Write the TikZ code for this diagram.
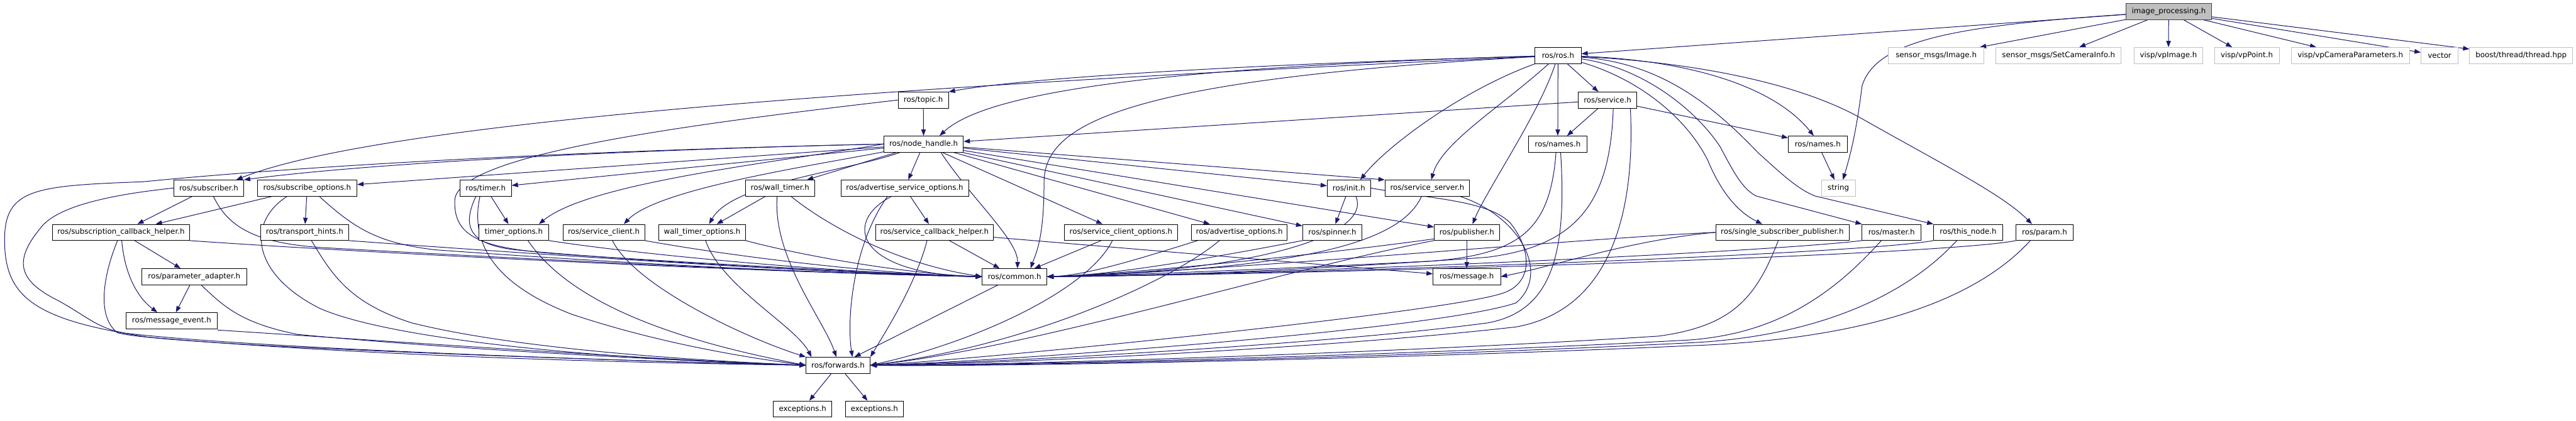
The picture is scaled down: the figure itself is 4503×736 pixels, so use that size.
\documentclass[tikz,border=0pt]{standalone}
\usepackage{fontspec}
\setmainfont{DejaVu Sans}
\usetikzlibrary{arrows.meta,calc}
\definecolor{eblue}{HTML}{191970}
\definecolor{extgray}{HTML}{BFBFBF}
\definecolor{ipfill}{HTML}{BFBFBF}
\definecolor{ipdraw}{HTML}{404040}
\pgfdeclarelayer{bg}
\pgfdeclarelayer{edges}
\pgfsetlayers{bg,edges,main}
\tikzset{
  nd/.style={draw=black, fill=white, line width=0.9pt, minimum height=28pt, inner sep=0pt, font=\fontsize{13}{15}\selectfont},
  ext/.style={nd, draw=extgray},
  ipn/.style={nd, draw=ipdraw, fill=ipfill},
  arr/.style={draw=eblue, line width=1.1pt, -{Triangle[length=11pt,width=8pt]}},
}
\begin{document}
\begin{tikzpicture}[x=1pt,y={(0pt,-1pt)}]
\useasboundingbox (0,0) rectangle (4503,736);
\begin{pgfonlayer}{bg}
\fill[white] (0,0) rectangle (4503,736);
\end{pgfonlayer}
% row 0
\node[ipn, minimum width=150pt] (ip) at (3791,20) {image\_processing.h};
% row 1
\node[nd, minimum width=81pt] (ros) at (2723.5,97) {ros/ros.h};
\node[ext, minimum width=167pt] (simg) at (3384.5,97) {sensor\_msgs/Image.h};
\node[ext, minimum width=219pt] (scam) at (3598.5,97) {sensor\_msgs/SetCameraInfo.h};
\node[ext, minimum width=119pt] (vpimg) at (3790.5,97) {visp/vpImage.h};
\node[ext, minimum width=113pt] (vppt) at (3927.5,97) {visp/vpPoint.h};
\node[ext, minimum width=207pt] (vpcam) at (4108.5,97) {visp/vpCameraParameters.h};
\node[ext, minimum width=65pt] (vector) at (4264.5,97) {vector};
\node[ext, minimum width=180pt] (boost) at (4407,97) {boost/thread/thread.hpp};
% row 2
\node[nd, minimum width=88pt] (topic) at (1614,175) {ros/topic.h};
\node[nd, minimum width=102pt] (service) at (2810,175) {ros/service.h};
% row 3
\node[nd, minimum width=139pt] (nh) at (1614.5,252) {ros/node\_handle.h};
\node[nd, minimum width=102pt] (namesL) at (2723,252) {ros/names.h};
\node[nd, minimum width=103pt] (namesR) at (3177.5,252) {ros/names.h};
% row 4
\node[nd, minimum width=122pt] (sub) at (365,329) {ros/subscriber.h};
\node[nd, minimum width=174pt] (subopt) at (537,329) {ros/subscribe\_options.h};
\node[nd, minimum width=90pt] (timer) at (849,329) {ros/timer.h};
\node[nd, minimum width=121pt] (wtimer) at (1363.5,329) {ros/wall\_timer.h};
\node[nd, minimum width=223pt] (adsvc) at (1581.5,329) {ros/advertise\_service\_options.h};
\node[nd, minimum width=76pt] (init) at (2358,329) {ros/init.h};
\node[nd, minimum width=148pt] (ssrv) at (2495,329) {ros/service\_server.h};
\node[ext, minimum width=59pt] (string) at (3213.5,329) {string};
% row 5
\node[nd, minimum width=239pt] (sch) at (211.5,406.5) {ros/subscription\_callback\_helper.h};
\node[nd, minimum width=153pt] (th) at (532.5,406.5) {ros/transport\_hints.h};
\node[nd, minimum width=122pt] (topt) at (898,406.5) {timer\_options.h};
\node[nd, minimum width=143pt] (sc) at (1055.5,406.5) {ros/service\_client.h};
\node[nd, minimum width=151pt] (wto) at (1227.5,406.5) {wall\_timer\_options.h};
\node[nd, minimum width=205pt] (svcb) at (1633.5,406.5) {ros/service\_callback\_helper.h};
\node[nd, minimum width=197pt] (sco) at (1959.5,406.5) {ros/service\_client\_options.h};
\node[nd, minimum width=167pt] (ado) at (2166.5,406.5) {ros/advertise\_options.h};
\node[nd, minimum width=104pt] (spin) at (2329,406.5) {ros/spinner.h};
\node[nd, minimum width=114pt] (pub) at (2564,406.5) {ros/publisher.h};
\node[nd, minimum width=233pt] (ssp) at (3115.5,406.5) {ros/single\_subscriber\_publisher.h};
\node[nd, minimum width=103pt] (master) at (3306.5,406.5) {ros/master.h};
\node[nd, minimum width=121pt] (thisnode) at (3440.5,406.5) {ros/this\_node.h};
\node[nd, minimum width=100pt] (param) at (3574,406.5) {ros/param.h};
% row 6
\node[nd, minimum width=183pt] (pa) at (339.5,484) {ros/parameter\_adapter.h};
\node[nd, minimum width=113pt] (common) at (1773.5,484) {ros/common.h};
\node[nd, minimum width=118pt] (msg) at (2564,484) {ros/message.h};
% row 7
\node[nd, minimum width=160pt] (me) at (300,561) {ros/message\_event.h};
% row 8
\node[nd, minimum width=112pt] (fwd) at (1465,639) {ros/forwards.h};
% row 9
\node[nd, minimum width=102pt] (ex1) at (1403,715.5) {exceptions.h};
\node[nd, minimum width=101pt] (ex2) at (1528.5,715.5) {exceptions.h};

\begin{pgfonlayer}{edges}
% image_processing.h
\draw[arr] (ip) -- (ros);
\draw[arr] (ip) .. controls (3420,45) and (3280,70) .. (3255,150) .. controls (3245,230) and (3235,270) .. ($(string.north)+(8,0)$);
\draw[arr] (ip) -- (simg);
\draw[arr] (ip) -- (scam);
\draw[arr] (ip) -- (vpimg);
\draw[arr] (ip) -- (vppt);
\draw[arr] (ip) -- (vpcam);
\draw[arr] (ip) -- (vector);
\draw[arr] (ip) -- (boost);
% ros/ros.h
\draw[arr] (ros) .. controls (2200,112) and (1800,135) .. (topic.north east);
\draw[arr] (ros) .. controls (2000,118) and (1720,165) .. ($(nh.north)+(28,0)$);
\draw[arr] (ros) .. controls (1800,140) and (700,200) .. ($(sub.north)+(48,0)$);
\draw[arr] (ros) .. controls (1950,140) and (1825,220) .. (1825,320) .. controls (1825,420) and (1810,445) .. ($(common.north)+(28,0)$);
\draw[arr] (ros) .. controls (2550,160) and (2420,260) .. ($(init.north)+(20,0)$);
\draw[arr] (ros) .. controls (2620,190) and (2520,250) .. ($(ssrv.north)+(7,0)$);
\draw[arr] (ros) .. controls (2690,200) and (2600,330) .. ($(pub.north)+(10,0)$);
\draw[arr] (ros) -- (namesL);
\draw[arr] (ros) -- (service);
\draw[arr] (ros) .. controls (2870,140) and (2950,210) .. (2985,280) .. controls (3010,340) and (3040,372) .. ($(ssp.north)+(-35,0)$);
\draw[arr] (ros) .. controls (2880,120) and (2970,200) .. (3007,257) .. controls (3030,300) and (3045,330) .. (3070,343) -- (master.north west);
\draw[arr] (ros) .. controls (2900,110) and (2990,180) .. (3073,267) .. controls (3110,300) and (3140,330) .. (3173,343) -- (thisnode.north west);
\draw[arr] (ros) .. controls (2950,105) and (3100,150) .. ($(namesR.north)+(-7,0)$);
\draw[arr] (ros) .. controls (2980,110) and (3150,150) .. (3250,205) .. controls (3400,290) and (3500,340) .. ($(param.north)+(-22,0)$);
% ros/service.h
\draw[arr] (service) -- (nh);
\draw[arr] (service) -- (namesL);
\draw[arr] (service) -- (namesR);
\draw[arr] ($(service.south)+(10,0)$) .. controls (2815,350) and (2760,430) .. (2600,450) .. controls (2300,472) and (2000,484) .. (common.east);
\draw[arr] ($(service.south)+(40,0)$) .. controls (2860,400) and (2800,545) .. (2650,572) .. controls (2300,612) and (1700,638) .. (fwd.east);
% ros/names.h
\draw[arr] (namesR) -- (string);
\draw[arr] ($(namesL.south)+(-3,0)$) .. controls (2710,400) and (2660,445) .. (2500,457) .. controls (2200,472) and (1950,482) .. (common.east);
\draw[arr] ($(namesL.south)+(5,0)$) .. controls (2740,450) and (2710,545) .. (2600,565) .. controls (2300,605) and (1700,636) .. (fwd.east);
% ros/topic.h
\draw[arr] (topic) -- (nh);
\draw[arr] (topic.west) .. controls (1200,218) and (800,270) .. (795,350) .. controls (792,420) and (850,436) .. (1000,446) .. controls (1300,466) and (1600,480) .. (common.west);
% ros/node_handle.h
\draw[arr] (nh.west) .. controls (1100,262) and (650,285) .. (sub.north east);
\draw[arr] (nh) -- (subopt);
\draw[arr] (nh) -- (timer);
\draw[arr] (nh.west) .. controls (1350,285) and (1030,320) .. ($(topt.north)+(44,0)$);
\draw[arr] (nh) .. controls (1420,290) and (1150,330) .. ($(sc.north)+(35,0)$);
\draw[arr] (nh) .. controls (1480,300) and (1280,320) .. ($(wto.north)+(12,0)$);
\draw[arr] (nh) -- (wtimer);
\draw[arr] (nh) -- (adsvc);
\draw[arr] (nh) -- (sco);
\draw[arr] (nh) -- (ado);
\draw[arr] (nh) -- (spin);
\draw[arr] (nh) -- (init);
\draw[arr] (nh) -- (ssrv.north west);
\draw[arr] (nh) -- (pub);
\draw[arr] ($(nh.south)+(30,0)$) .. controls (1700,350) and (1780,420) .. ($(common.north)+(5,0)$);
\draw[arr] (nh.west) .. controls (900,266) and (450,298) .. (250,318) .. controls (60,325) and (8,330) .. (8,420) .. controls (8,520) and (60,560) .. (260,590) .. controls (700,628) and (1200,636) .. (fwd.west);
% left group
\draw[arr] (sub) -- (sch);
\draw[arr] (subopt) -- (sch);
\draw[arr] (subopt) -- (th);
\draw[arr] (sch) -- (pa);
\draw[arr] (sch) .. controls (218,480) and (240,520) .. ($(me.north)+(-25,0)$);
\draw[arr] (pa) -- (me);
\draw[arr] (timer) -- (topt);
\draw[arr] (wtimer) -- (wto);
\draw[arr] (adsvc) -- (svcb);
\draw[arr] (init) -- (spin);
% to common.h
\draw[arr] ($(sub.south)+(8,0)$) .. controls (400,400) and (450,425) .. (560,433) .. controls (900,452) and (1400,478) .. (common.west);
\draw[arr] ($(subopt.south)+(21,0)$) .. controls (620,400) and (660,425) .. (760,437) .. controls (1050,458) and (1400,478) .. (common.west);
\draw[arr] (sch.south east) .. controls (600,440) and (1300,476) .. (common.west);
\draw[arr] (th.south east) .. controls (900,442) and (1400,477) .. (common.west);
\draw[arr] ($(timer.south)+(-17,0)$) .. controls (805,400) and (825,428) .. (900,437) .. controls (1100,456) and (1500,479) .. (common.west);
\draw[arr] (topt.south east) .. controls (1150,450) and (1500,479) .. (common.west);
\draw[arr] (sc.south east) .. controls (1300,452) and (1550,480) .. (common.west);
\draw[arr] (wto.south east) .. controls (1420,452) and (1600,480) .. (common.west);
\draw[arr] ($(wtimer.south)+(19,0)$) .. controls (1440,390) and (1560,460) .. (common.west);
\draw[arr] ($(adsvc.south)+(-23,0)$) .. controls (1470,390) and (1500,480) .. (common.west);
\draw[arr] (svcb) -- (common);
\draw[arr] (sco) -- (common);
\draw[arr] ($(ado.south)+(-73,0)$) .. controls (2000,450) and (1900,482) .. (common.east);
\draw[arr] (spin.south west) .. controls (2150,445) and (1950,482) .. (common.east);
\draw[arr] ($(init.south)+(12,0)$) .. controls (2400,410) and (2200,475) .. (common.east);
\draw[arr] ($(ssrv.south)+(-10,0)$) .. controls (2450,420) and (2300,470) .. (common.east);
\draw[arr] ($(pub.south west)+(0,-3)$) .. controls (2350,440) and (2000,478) .. (common.east);
\draw[arr] (ssp.west) .. controls (2750,418) and (2200,470) .. (common.east);
\draw[arr] (master.south west) .. controls (3100,440) and (2300,478) .. (common.east);
\draw[arr] (thisnode.south west) .. controls (3250,445) and (2300,479) .. (common.east);
\draw[arr] (param.south west) .. controls (3400,447) and (2300,480) .. (common.east);
% to message.h
\draw[arr] (pub) -- (msg);
\draw[arr] (svcb) -- (msg);
\draw[arr] (ssp.west) .. controls (2850,420) and (2720,465) .. (msg.east);
% to forwards.h
\draw[arr] (sub.west) .. controls (150,345) and (90,372) .. (70,400) .. controls (25,455) and (30,490) .. (100,525) .. controls (150,552) and (170,575) .. (220,583) .. controls (450,610) and (1100,632) .. (fwd.west);
\draw[arr] ($(sch.south)+(-6,0)$) .. controls (185,470) and (165,550) .. (205,582) .. controls (280,605) and (1100,632) .. (fwd.west);
\draw[arr] ($(pa.south)+(12,0)$) .. controls (390,535) and (420,565) .. (520,585) .. controls (800,612) and (1200,632) .. (fwd.west);
\draw[arr] ($(me.south east)+(0,2)$) .. controls (700,598) and (1150,630) .. (fwd.west);
\draw[arr] ($(subopt.south)+(-35,0)$) .. controls (430,390) and (440,480) .. (560,540) .. controls (700,600) and (1100,630) .. (fwd.west);
\draw[arr] ($(th.south)+(12,0)$) .. controls (580,480) and (610,530) .. (720,565) .. controls (900,610) and (1200,630) .. (fwd.west);
\draw[arr] ($(timer.south)+(-10,0)$) .. controls (820,430) and (870,500) .. (1000,550) .. controls (1150,600) and (1300,625) .. (fwd.west);
\draw[arr] ($(topt.south)+(25,0)$) .. controls (990,520) and (1150,590) .. (fwd.west);
\draw[arr] ($(sc.south)+(15,0)$) .. controls (1110,500) and (1300,590) .. (fwd.north west);
\draw[arr] ($(wto.south)+(6,0)$) .. controls (1260,500) and (1390,570) .. ($(fwd.north west)+(10,0)$);
\draw[arr] ($(wtimer.south)+(-5,0)$) .. controls (1350,450) and (1440,560) .. ($(fwd.north)+(-3,0)$);
\draw[arr] ($(adsvc.south)+(-30,0)$) .. controls (1490,430) and (1480,560) .. ($(fwd.north)+(25,0)$);
\draw[arr] ($(svcb.south)+(-13,0)$) .. controls (1600,500) and (1545,585) .. (fwd.north east);
\draw[arr] (common) -- (fwd);
\draw[arr] ($(sco.south)+(-15,0)$) .. controls (1900,510) and (1700,600) .. (fwd.east);
\draw[arr] ($(ado.south)+(-35,0)$) .. controls (2050,490) and (1800,605) .. (fwd.east);
\draw[arr] (init.east) .. controls (2500,348) and (2600,350) .. (2640,390) .. controls (2680,440) and (2680,500) .. (2620,515) .. controls (2500,550) and (1700,630) .. (fwd.east);
\draw[arr] ($(ssrv.south)+(57,0)$) .. controls (2660,380) and (2710,480) .. (2650,530) .. controls (2500,580) and (1700,635) .. (fwd.east);
\draw[arr] (pub.south west) .. controls (2250,470) and (1800,610) .. (fwd.east);
\draw[arr] ($(ssp.south)+(-7,0)$) .. controls (3070,520) and (3030,570) .. (2900,588) .. controls (2400,620) and (1700,640) .. (fwd.east);
\draw[arr] ($(master.south)+(-18,0)$) .. controls (3200,520) and (3100,585) .. (2950,595) .. controls (2400,625) and (1700,640) .. (fwd.east);
\draw[arr] ($(thisnode.south)+(-20,0)$) .. controls (3330,520) and (3170,590) .. (2950,600) .. controls (2400,628) and (1700,641) .. (fwd.east);
\draw[arr] ($(param.south)+(-25,0)$) .. controls (3450,530) and (3250,595) .. (2950,605) .. controls (2400,630) and (1700,642) .. (fwd.east);
% forwards.h
\draw[arr] (fwd) -- (ex1);
\draw[arr] (fwd) -- (ex2);
\end{pgfonlayer}
\end{tikzpicture}
\end{document}
